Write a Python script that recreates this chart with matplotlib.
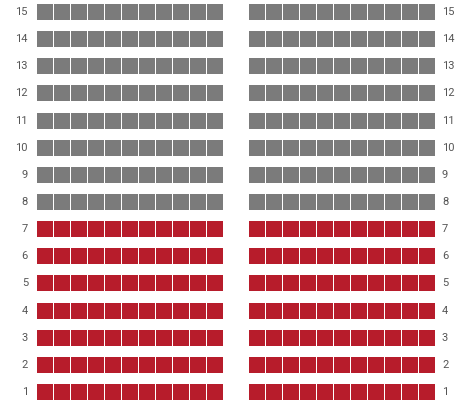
import matplotlib
matplotlib.use("Agg")
import matplotlib.pyplot as plt

rows = list(range(1, 16))
seats_per_block = 11
row_status = ["red"] * 7 + ["gray"] * 8   # rows 1..15
colors = {"red": "#B71C2B", "gray": "#7B7B7B"}
blocks = [0.0, 12.47]  # column offset of each block

pitch = 380 / 14
fig = plt.figure(figsize=(4.62, 4.01), dpi=100)
ax = fig.add_axes([0, 0, 1, 1])
ax.set_xlim(-37 / 17, (462 - 37) / 17)
ax.set_ylim(15 - (401 - 12) / pitch, 15 + 12 / pitch)
ax.axis("off")

cw = 16 / 17
ch = 16 / pitch
for r, st in zip(rows, row_status):
    for off in blocks:
        xs = [off + i for i in range(seats_per_block)]
        ax.bar(xs, [ch] * len(xs), width=cw, bottom=r - ch / 2, align="edge",
               color=colors[st], linewidth=0)
    ax.text(-9 / 17, r, str(r), ha="right", va="center", fontsize=8,
            family="Roboto", color="#555555")
    ax.text(blocks[1] + (436 + 6 - 249) / 17, r, str(r), ha="left", va="center",
            fontsize=8, family="Roboto", color="#555555")

fig.savefig("out.png", dpi=100)
